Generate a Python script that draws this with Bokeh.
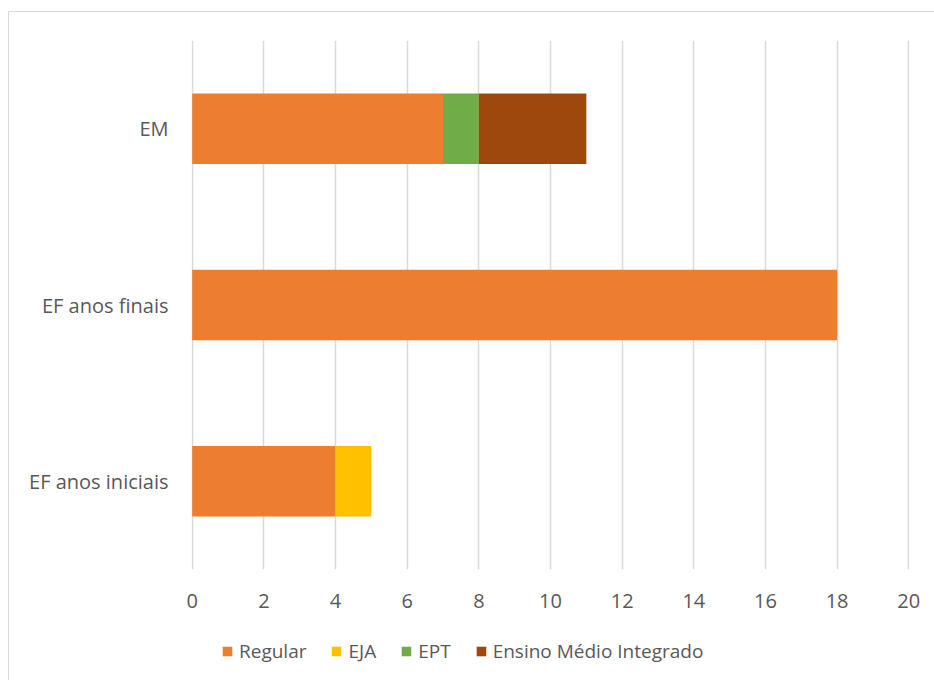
from bokeh.plotting import figure
from bokeh.layouts import column
from bokeh.models import Range1d, FactorRange, Legend, LegendItem, FixedTicker
from bokeh.embed import file_html
from bokeh.resources import INLINE

# Etapas (de baixo para cima) e número de pesquisas por modalidade
etapas = ["EF anos iniciais", "EF anos finais", "EM"]
modalidades = ["Regular", "EJA", "EPT", "Ensino Médio Integrado"]
regular = [4, 18, 7]
eja = [1, 0, 0]
ept = [0, 0, 1]
integrado = [0, 0, 3]
x_ticks = [0, 2, 4, 6, 8, 10, 12, 14, 16, 18, 20]

cores = ["#ED7D31", "#FFC000", "#70AD47", "#9E480E"]
fonte = "Open Sans"
cinza = "#595959"

data = {"etapa": etapas, "Regular": regular, "EJA": eja, "EPT": ept,
        "Ensino Médio Integrado": integrado}

# Gráfico principal: barras horizontais empilhadas
p = figure(
    frame_width=718, frame_height=529,
    y_range=FactorRange(*etapas, range_padding=0),
    x_range=Range1d(-0.02, 20.02),
    output_backend="svg", toolbar_location=None,
    min_border_left=182, min_border_right=29,
    min_border_top=28, min_border_bottom=62,
)

renderers = p.hbar_stack(modalidades, y="etapa", height=0.4, color=cores,
                         line_color=None, source=data)

p.outline_line_color = None
p.ygrid.grid_line_color = None
p.xgrid.grid_line_color = "#d9d9d9"
p.xgrid.grid_line_width = 1.5
p.xaxis.ticker = FixedTicker(ticks=x_ticks)

for ax in (p.xaxis[0], p.yaxis[0]):
    ax.axis_line_color = None
    ax.major_tick_line_color = None
    ax.minor_tick_line_color = None
    ax.major_label_text_font = fonte
    ax.major_label_text_color = cinza
p.xaxis.major_label_text_font_size = "20px"
p.yaxis.major_label_text_font_size = "20px"
p.yaxis.major_label_standoff = 17
p.xaxis.major_label_standoff = 18

# Faixa inferior com a legenda (amostras de cor de largura zero)
leg = figure(
    width=926, height=50,
    x_range=Range1d(0, 926), y_range=Range1d(0, 50),
    output_backend="svg", toolbar_location=None,
    min_border=0, x_axis_location=None, y_axis_location=None,
)
leg.outline_line_color = None
leg.grid.visible = False
swatches = [leg.hbar(y=[0], left=[0], right=[0], height=0, color=c, line_color=None)
            for c in cores]

legend = Legend(
    items=[LegendItem(label=m, renderers=[r]) for m, r in zip(modalidades, swatches)],
    orientation="horizontal", location=(30, 17),
    label_text_font=fonte, label_text_font_size="19px", label_text_color=cinza,
    glyph_width=12, glyph_height=12, spacing=24, label_standoff=6,
    border_line_color=None, background_fill_alpha=0,
    margin=0, padding=0,
)
leg.add_layout(legend)

layout = column(p, leg, spacing=0, margin=(11, 0, 0, 8),
                styles={"border": "1.5px solid #d9d9d9"})

open("out.html", "w").write(file_html(layout, INLINE))
